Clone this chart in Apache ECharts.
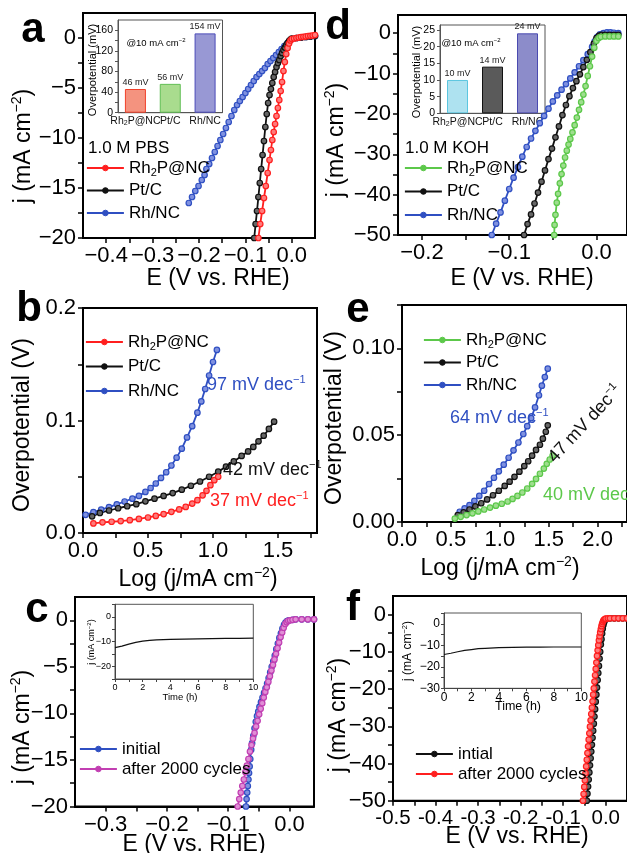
<!DOCTYPE html>
<html>
<head>
<meta charset="utf-8">
<script src="https://cdn.jsdelivr.net/npm/echarts@6.0.0/dist/echarts.min.js"></script>
<style>
  html, body { margin: 0; padding: 0; background: #fff; }
  #chart { width: 627px; height: 853px; }
</style>
</head>
<body>
<div id="chart"></div>
<script>
// ---------------- Data: polarization curves (E in V vs. RHE, j in mA cm^-2) ----------------
// (a) 1.0 M PBS
const pbsRh2P = [[-0.072,-20.0],[-0.068,-18.6],[-0.064,-17.3],[-0.060,-16.0],[-0.056,-14.8],[-0.052,-13.5],[-0.048,-12.2],[-0.045,-11.2],[-0.042,-10.2],[-0.039,-9.4],[-0.036,-8.6],[-0.033,-7.8],[-0.030,-7.0],[-0.027,-6.2],[-0.024,-5.3],[-0.021,-4.4],[-0.018,-3.3],[-0.015,-2.4],[-0.012,-1.6],[-0.009,-1.0],[-0.006,-0.55],[-0.003,-0.25],[0.000,-0.1],[0.005,-0.05],[0.010,0.0],[0.015,0.05],[0.020,0.1],[0.025,0.12],[0.030,0.15],[0.035,0.2],[0.040,0.22],[0.045,0.25],[0.050,0.3]];
const pbsPtC = [[-0.081,-20.0],[-0.078,-18.6],[-0.075,-17.3],[-0.072,-15.9],[-0.069,-14.5],[-0.066,-13.1],[-0.063,-11.7],[-0.060,-10.3],[-0.057,-8.9],[-0.054,-7.6],[-0.051,-6.5],[-0.048,-5.7],[-0.045,-5.1],[-0.042,-4.5],[-0.039,-3.9],[-0.036,-3.4],[-0.033,-2.9],[-0.030,-2.5],[-0.027,-2.2],[-0.024,-1.8],[-0.021,-1.5],[-0.018,-1.2],[-0.015,-0.95],[-0.012,-0.7],[-0.009,-0.5],[-0.006,-0.3],[-0.003,-0.15],[0.000,-0.05],[0.010,0.0],[0.020,0.05],[0.030,0.1],[0.040,0.15],[0.050,0.2]];
const pbsRhNC = [[-0.222,-16.5],[-0.215,-15.9],[-0.208,-15.3],[-0.201,-14.8],[-0.194,-14.2],[-0.188,-13.7],[-0.184,-13.1],[-0.178,-12.6],[-0.172,-12.0],[-0.166,-11.4],[-0.160,-10.8],[-0.154,-10.2],[-0.148,-9.6],[-0.142,-9.0],[-0.136,-8.4],[-0.130,-7.8],[-0.124,-7.2],[-0.118,-6.7],[-0.112,-6.3],[-0.106,-5.9],[-0.100,-5.5],[-0.094,-5.1],[-0.088,-4.7],[-0.082,-4.3],[-0.076,-3.9],[-0.070,-3.6],[-0.064,-3.3],[-0.058,-3.0],[-0.052,-2.6],[-0.046,-2.3],[-0.040,-2.0],[-0.034,-1.7],[-0.028,-1.4],[-0.022,-1.1],[-0.016,-0.8],[-0.010,-0.55],[-0.005,-0.3],[0.000,-0.1],[0.010,0.0],[0.020,0.05],[0.030,0.1],[0.040,0.15],[0.050,0.2]];

// (d) 1.0 M KOH
const kohRh2P = [[-0.0485,-50.0],[-0.0480,-47.5],[-0.0470,-45.0],[-0.0455,-42.0],[-0.0440,-39.8],[-0.0420,-37.2],[-0.0400,-34.9],[-0.0380,-32.8],[-0.0360,-30.8],[-0.0340,-29.1],[-0.0320,-27.6],[-0.0300,-26.2],[-0.0275,-24.6],[-0.0250,-22.8],[-0.0225,-20.9],[-0.0200,-19.0],[-0.0175,-17.1],[-0.0150,-15.2],[-0.0125,-13.1],[-0.0100,-10.6],[-0.0075,-8.2],[-0.0050,-5.8],[-0.0025,-3.6],[0.0000,-1.9],[0.0025,-1.2],[0.0050,-0.9],[0.0100,-0.8],[0.0150,-0.8],[0.0200,-0.8],[0.0250,-0.8]];
const kohPtC = [[-0.0830,-50.0],[-0.0790,-47.3],[-0.0750,-44.9],[-0.0710,-42.2],[-0.0670,-39.5],[-0.0630,-36.8],[-0.0590,-34.0],[-0.0550,-31.2],[-0.0510,-28.6],[-0.0470,-25.8],[-0.0430,-23.1],[-0.0390,-20.3],[-0.0350,-17.8],[-0.0310,-15.6],[-0.0270,-13.6],[-0.0230,-11.9],[-0.0190,-10.2],[-0.0150,-8.4],[-0.0110,-6.6],[-0.0070,-4.7],[-0.0030,-2.6],[0.0000,-1.2],[0.0030,-0.6],[0.0060,-0.4],[0.0100,-0.4],[0.0150,-0.4],[0.0200,-0.4],[0.0250,-0.4]];
const kohRhNC = [[-0.1200,-50.0],[-0.1150,-47.2],[-0.1100,-44.4],[-0.1050,-41.5],[-0.1000,-38.6],[-0.0950,-35.8],[-0.0900,-33.2],[-0.0850,-30.6],[-0.0800,-28.2],[-0.0750,-26.1],[-0.0700,-24.2],[-0.0650,-22.3],[-0.0600,-20.5],[-0.0550,-18.7],[-0.0500,-16.9],[-0.0450,-15.4],[-0.0400,-14.0],[-0.0350,-12.6],[-0.0300,-11.2],[-0.0250,-9.7],[-0.0200,-8.2],[-0.0150,-6.7],[-0.0100,-5.2],[-0.0050,-3.4],[-0.0020,-2.0],[0.0010,-0.9],[0.0040,-0.3],[0.0080,0.0],[0.0120,0.2],[0.0160,0.2],[0.0200,0.1],[0.0250,0.0]];

// (b) Tafel plots, PBS: [log j, overpotential V]
const tafelPbsRh2P = [[0.08,0.0085],[0.15,0.0095],[0.22,0.0100],[0.29,0.0106],[0.36,0.0114],[0.43,0.0125],[0.50,0.0138],[0.56,0.0152],[0.62,0.0168],[0.68,0.0188],[0.74,0.0210],[0.79,0.0232],[0.84,0.0262],[0.88,0.0292],[0.92,0.0335],[0.95,0.0375],[0.98,0.0425],[1.01,0.0470],[1.04,0.0500]];
const tafelPbsPtC = [[0.07,0.0148],[0.13,0.0178],[0.20,0.0200],[0.27,0.0220],[0.34,0.0238],[0.41,0.0256],[0.48,0.0282],[0.55,0.0305],[0.62,0.0330],[0.69,0.0355],[0.76,0.0385],[0.83,0.0420],[0.90,0.0458],[0.97,0.0500],[1.04,0.0545],[1.10,0.0590],[1.16,0.0636],[1.22,0.0685],[1.27,0.0725],[1.31,0.0765],[1.35,0.0815],[1.39,0.0865],[1.43,0.0925],[1.47,0.0990]];
const tafelPbsRhNC = [[0.02,0.0162],[0.08,0.0185],[0.14,0.0207],[0.20,0.0230],[0.26,0.0255],[0.32,0.0280],[0.38,0.0305],[0.43,0.0330],[0.48,0.0365],[0.52,0.0400],[0.56,0.0440],[0.60,0.0490],[0.64,0.0540],[0.68,0.0600],[0.72,0.0670],[0.76,0.0750],[0.80,0.0850],[0.84,0.0950],[0.88,0.1070],[0.91,0.1170],[0.94,0.1280],[0.97,0.1400],[1.00,0.1520],[1.03,0.1627]];

// (e) Tafel plots, KOH
const tafelKohRh2P = [[0.54,0.0020],[0.60,0.0030],[0.66,0.0040],[0.72,0.0050],[0.78,0.0061],[0.84,0.0072],[0.90,0.0083],[0.96,0.0094],[1.02,0.0105],[1.08,0.0118],[1.13,0.0133],[1.18,0.0150],[1.23,0.0170],[1.28,0.0193],[1.33,0.0220],[1.37,0.0248],[1.41,0.0278],[1.45,0.0308],[1.48,0.0335],[1.51,0.0360],[1.54,0.0383]];
const tafelKohPtC = [[0.57,0.0040],[0.63,0.0056],[0.69,0.0072],[0.75,0.0090],[0.81,0.0108],[0.87,0.0130],[0.93,0.0154],[0.99,0.0180],[1.05,0.0208],[1.10,0.0232],[1.15,0.0260],[1.20,0.0290],[1.25,0.0322],[1.29,0.0350],[1.33,0.0382],[1.37,0.0415],[1.41,0.0445],[1.44,0.0480],[1.47,0.0520],[1.49,0.0557]];
const tafelKohRhNC = [[0.59,0.0059],[0.64,0.0078],[0.69,0.0097],[0.74,0.0122],[0.79,0.0150],[0.84,0.0180],[0.89,0.0219],[0.94,0.0255],[0.99,0.0292],[1.04,0.0330],[1.09,0.0370],[1.14,0.0413],[1.19,0.0458],[1.24,0.0507],[1.28,0.0552],[1.32,0.0598],[1.36,0.0660],[1.40,0.0730],[1.43,0.0785],[1.46,0.0835],[1.49,0.0883]];

// (c) PBS durability
const pbsInitial = [[-0.0710,-20.0],[-0.0700,-19.2],[-0.0690,-18.5],[-0.0680,-17.8],[-0.0670,-17.1],[-0.0660,-16.4],[-0.0650,-15.7],[-0.0640,-14.9],[-0.0625,-13.9],[-0.0610,-13.2],[-0.0590,-12.4],[-0.0570,-11.6],[-0.0550,-10.9],[-0.0530,-10.3],[-0.0510,-9.8],[-0.0490,-9.3],[-0.0465,-8.8],[-0.0440,-8.3],[-0.0415,-7.8],[-0.0390,-7.3],[-0.0365,-6.8],[-0.0340,-6.2],[-0.0315,-5.6],[-0.0290,-5.0],[-0.0265,-4.4],[-0.0240,-3.8],[-0.0215,-3.1],[-0.0190,-2.5],[-0.0165,-1.9],[-0.0140,-1.4],[-0.0115,-0.9],[-0.0090,-0.5],[-0.0065,-0.25],[-0.0040,-0.1],[-0.0010,0.0],[0.0050,0.05],[0.0100,0.1],[0.0200,0.1],[0.0300,0.1],[0.0400,0.1]];
const pbsCycled = [[-0.0845,-20.0],[-0.0820,-19.2],[-0.0795,-18.5],[-0.0770,-17.8],[-0.0745,-17.1],[-0.0720,-16.3],[-0.0695,-15.6],[-0.0670,-14.9],[-0.0645,-14.1],[-0.0620,-13.4],[-0.0595,-12.7],[-0.0570,-12.1],[-0.0545,-11.4],[-0.0520,-10.8],[-0.0495,-10.1],[-0.0470,-9.5],[-0.0445,-8.9],[-0.0420,-8.3],[-0.0395,-7.7],[-0.0370,-7.2],[-0.0345,-6.6],[-0.0320,-6.0],[-0.0295,-5.4],[-0.0270,-4.8],[-0.0245,-4.2],[-0.0220,-3.6],[-0.0195,-3.0],[-0.0170,-2.4],[-0.0145,-1.8],[-0.0120,-1.3],[-0.0095,-0.8],[-0.0070,-0.4],[-0.0045,-0.2],[-0.0020,-0.05],[0.0010,0.0],[0.0050,0.05],[0.0100,0.1],[0.0200,0.1],[0.0300,0.1],[0.0400,0.1]];

// (f) KOH durability
const kohInitial = [[-0.0445,-50.0],[-0.0430,-48.1],[-0.0415,-46.2],[-0.0400,-44.3],[-0.0385,-42.4],[-0.0370,-40.5],[-0.0355,-38.6],[-0.0340,-36.8],[-0.0325,-35.0],[-0.0310,-33.1],[-0.0295,-31.2],[-0.0280,-29.3],[-0.0265,-27.4],[-0.0250,-25.4],[-0.0235,-23.4],[-0.0220,-21.5],[-0.0205,-19.6],[-0.0190,-17.6],[-0.0175,-15.7],[-0.0160,-13.8],[-0.0145,-11.8],[-0.0130,-10.0],[-0.0115,-8.0],[-0.0100,-6.6],[-0.0085,-5.1],[-0.0070,-3.8],[-0.0055,-2.8],[-0.0040,-2.1],[-0.0025,-1.6],[0.0000,-1.2],[0.0100,-1.0],[0.0200,-1.0],[0.0300,-1.0],[0.0400,-1.0],[0.0500,-1.0]];
const kohCycled = [[-0.0535,-50.0],[-0.0520,-48.2],[-0.0505,-46.3],[-0.0490,-44.5],[-0.0475,-42.6],[-0.0460,-40.8],[-0.0445,-39.0],[-0.0430,-37.2],[-0.0415,-35.4],[-0.0400,-33.6],[-0.0385,-31.9],[-0.0370,-30.1],[-0.0355,-28.4],[-0.0340,-26.7],[-0.0325,-25.0],[-0.0310,-23.3],[-0.0295,-21.5],[-0.0280,-19.8],[-0.0265,-18.0],[-0.0250,-16.3],[-0.0235,-14.6],[-0.0220,-12.9],[-0.0205,-11.1],[-0.0190,-9.6],[-0.0175,-8.2],[-0.0160,-6.9],[-0.0145,-5.8],[-0.0130,-4.8],[-0.0115,-3.9],[-0.0100,-3.1],[-0.0085,-2.5],[-0.0070,-2.0],[-0.0055,-1.6],[-0.0040,-1.4],[-0.0020,-1.2],[0.0000,-1.1],[0.0050,-1.0],[0.0100,-1.0],[0.0200,-1.0],[0.0300,-1.0],[0.0400,-1.0],[0.0500,-1.0]];

// Chronoamperometry insets: [time h, j]
const chronoPbs = [[0,-12.4],[0.5,-11.8],[1,-11.0],[1.5,-10.3],[2,-9.8],[2.5,-9.5],[3,-9.3],[4,-9.1],[5,-9.0],[6,-8.9],[7,-8.8],[8,-8.7],[9,-8.65],[10,-8.6]];
const chronoKoh = [[0,-14.3],[0.5,-13.7],[1,-13.0],[1.5,-12.4],[2,-12.0],[2.5,-11.6],[3,-11.4],[4,-11.1],[5,-11.0],[6,-10.9],[7,-10.85],[8,-10.8],[9,-10.8],[10,-10.8]];

// Overpotential @10 mA cm^-2 bar insets
const catalysts = ['Rh2P@NC', 'Pt/C', 'Rh/NC'];
const etaPbs = [46, 56, 154];
const etaKoh = [10, 14, 24];

// ---------------- Tick positions and tick labels ----------------
const aTicksX = [-0.4,-0.35,-0.3,-0.25,-0.2,-0.15,-0.1,-0.05,0];
const aLabelsX = [-0.4,-0.3,-0.2,-0.1,0];
const aTicksY = [-20,-17.5,-15,-12.5,-10,-7.5,-5,-2.5,0];
const aLabelsY = [-20,-15,-10,-5,0];
const dTicksX = [-0.2,-0.15,-0.1,-0.05,0];
const dLabelsX = [-0.2,-0.1,0];
const dTicksY = [-50,-45,-40,-35,-30,-25,-20,-15,-10,-5,0];
const dLabelsY = [-50,-40,-30,-20,-10,0];
const bTicksX = [0,0.25,0.5,0.75,1,1.25,1.5,1.75];
const bLabelsX = [0,0.5,1,1.5];
const bTicksY = [0,0.05,0.1,0.15,0.2];
const bLabelsY = [0,0.1,0.2];
const eTicksX = [0,0.25,0.5,0.75,1,1.25,1.5,1.75,2,2.25];
const eLabelsX = [0,0.5,1,1.5,2];
const eTicksY = [0,0.025,0.05,0.075,0.1,0.125];
const eLabelsY = [0,0.05,0.1];
const cTicksX = [-0.3,-0.25,-0.2,-0.15,-0.1,-0.05,0];
const cLabelsX = [-0.3,-0.2,-0.1,0];
const cTicksY = [-20,-17.5,-15,-12.5,-10,-7.5,-5,-2.5,0];
const cLabelsY = [-20,-15,-10,-5,0];
const fTicksX = [-0.5,-0.45,-0.4,-0.35,-0.3,-0.25,-0.2,-0.15,-0.1,-0.05,0];
const fLabelsX = [-0.5,-0.4,-0.3,-0.2,-0.1,0];
const fTicksY = [-50,-45,-40,-35,-30,-25,-20,-15,-10,-5,0];
const fLabelsY = [-50,-40,-30,-20,-10,0];
const barPbsTicks = [0,20,40,60,80,100,120,140,160];
const barPbsLabels = [0,40,80,120,160];
const barKohTicks = [0,5,10,15,20,25];
const barKohLabels = [0,5,10,15,20,25];
const timeTicks = [0,1,2,3,4,5,6,7,8,9,10];
const timeLabels = [0,2,4,6,8,10];
const chronoPbsLabels = [-20,-10,0];
const chronoPbsTicks = [-25,-20,-15,-10,-5,0,5];
const chronoKohLabels = [-30,-20,-10,0];
const chronoKohTicks = [-30,-25,-20,-15,-10,-5,0,5];

// ---------------- Styling helpers ----------------
const FONT = '"Liberation Sans", Arial, Helvetica, sans-serif';
const RED = '#ff1f1f', BLACK = '#111111', BLUE = '#2f4fc2', GREEN = '#5cc84a', MAGENTA = '#c23fb2';
const FILL = { [RED]: '#ff7a7a', [BLACK]: '#666666', [BLUE]: '#7f91e0', [GREEN]: '#9ede8e', [MAGENTA]: '#e08ed6' };

function numFmt(dec, minus) {
  return function (v) {
    const s = Math.abs(v).toFixed(dec);
    return (v < -1e-9 ? minus : '') + s;
  };
}

function valueAxis(gridIndex, min, max, ticks, labels, dec, o) {
  o = o || {};
  return {
    type: 'value', gridIndex, min, max,
    splitLine: { show: false },
    axisLine: { show: true, onZero: false, lineStyle: { color: o.lineColor || '#000', width: o.lineWidth || 2 } },
    axisTick: { show: true, inside: false, length: o.tickLen || 5, customValues: ticks,
                lineStyle: { color: o.lineColor || '#000', width: o.tickWidth || 1.5 } },
    axisLabel: { customValues: labels, formatter: numFmt(dec, o.minus || '\u2212'), color: '#000',
                 showMinLabel: true, showMaxLabel: true, hideOverlap: false,
                 fontSize: o.fontSize || 22, fontFamily: FONT, margin: o.margin || 7 }
  };
}

function curve(name, data, idx, color) {
  return {
    type: 'line', name, data, xAxisIndex: idx, yAxisIndex: idx,
    symbol: 'circle', symbolSize: 5.5, showSymbol: true, showAllSymbol: true,
    lineStyle: { color, width: 1.8 },
    itemStyle: { color: FILL[color], borderColor: color, borderWidth: 1.2 },
    animation: false, silent: true, z: 3
  };
}

const nameRich = {
  s: { fontSize: 11, verticalAlign: 'bottom', lineHeight: 14, fontFamily: FONT }
};
function richName(name) {
  return name === 'Rh2P@NC' ? 'Rh{s|2}P@NC' : name;
}

function legendBlock(names, colors, left, top, gap) {
  return {
    show: true, orient: 'vertical', left, top, padding: 0,
    itemWidth: 37, itemHeight: 7, itemGap: gap, selectedMode: false,
    data: names.map((n, i) => ({
      name: n,
      itemStyle: { color: colors[i], borderColor: colors[i], borderWidth: 1 },
      lineStyle: { color: colors[i], width: 1.8 }
    })),
    formatter: richName,
    textStyle: { fontSize: 17, fontFamily: FONT, color: '#000', lineHeight: 20, rich: nameRich }
  };
}

function label(x, y, text, size, extra) {
  extra = extra || {};
  return {
    type: 'text', x, y, rotation: extra.rotation || 0, silent: true, z: 50,
    style: {
      text, fill: extra.color || '#000', fontSize: size, fontFamily: FONT,
      fontWeight: extra.bold ? 'bold' : 'normal',
      align: extra.align || 'center', verticalAlign: 'middle',
      textAlign: extra.align || 'center', textVerticalAlign: 'middle',
      rich: extra.rich || undefined
    }
  };
}

function supRich(size, color) {
  return {
    sup: { fontSize: Math.round(size * 0.6), verticalAlign: 'top', lineHeight: size + 4, fill: color || '#000', color: color || '#000', fontFamily: FONT }
  };
}

// ---------------- Layout of the panels ----------------
const grids = [
  { left: 83, top: 13, width: 232, height: 225 },     // 0: a
  { left: 398, top: 15, width: 243, height: 220 },    // 1: d
  { left: 83, top: 308, width: 234, height: 225 },    // 2: b
  { left: 402, top: 305, width: 246, height: 217 },   // 3: e
  { left: 75, top: 597, width: 239, height: 209.5 },  // 4: c
  { left: 393, top: 596, width: 238, height: 204.7 }, // 5: f
  { left: 118, top: 20, width: 104.5, height: 92.7 }, // 6: bar inset (a)
  { left: 440, top: 25, width: 105, height: 88.3 },   // 7: bar inset (d)
  { left: 115, top: 604.3, width: 138.3, height: 74.7 }, // 8: time inset (c)
  { left: 444, top: 613, width: 137.3, height: 75.3 }    // 9: time inset (f)
].map((g, i) => Object.assign({
  show: true, containLabel: false,
  borderColor: i < 6 ? '#000' : '#555', borderWidth: i < 6 ? 2 : 1,
  backgroundColor: i < 6 ? 'transparent' : '#fff'
}, g));

const catLabel = { interval: 0, hideOverlap: false, fontSize: 10.5, fontFamily: FONT, color: '#111', margin: 3,
                   formatter: richName, rich: { s: { fontSize: 7, verticalAlign: 'bottom', lineHeight: 10 } } };

const xAxes = [
  valueAxis(0, -0.45, 0.05, aTicksX, aLabelsX, 1),
  valueAxis(1, -0.2275, 0.035, dTicksX, dLabelsX, 1),
  valueAxis(2, 0, 1.8, bTicksX, bLabelsX, 1),
  valueAxis(3, 0, 2.3, eTicksX, eLabelsX, 1),
  valueAxis(4, -0.35, 0.04, cTicksX, cLabelsX, 1),
  valueAxis(5, -0.5, 0.05, fTicksX, fLabelsX, 1, { fontSize: 20.5, minus: '-' }),
  { type: 'category', gridIndex: 6, data: catalysts,
    axisLine: { show: true, lineStyle: { color: '#555', width: 1 } }, axisTick: { show: false }, axisLabel: catLabel },
  { type: 'category', gridIndex: 7, data: catalysts,
    axisLine: { show: true, lineStyle: { color: '#555', width: 1 } }, axisTick: { show: false }, axisLabel: catLabel },
  valueAxis(8, 0, 10, timeTicks, timeLabels, 0, { fontSize: 9, margin: 4, tickLen: 3, lineWidth: 1, tickWidth: 1, lineColor: '#444' }),
  valueAxis(9, 0, 10, timeTicks, timeLabels, 0, { fontSize: 12, margin: 3, tickLen: 3, lineWidth: 1, tickWidth: 1, lineColor: '#444' })
];

const yAxes = [
  valueAxis(0, -20, 2.5, aTicksY, aLabelsY, 0),
  valueAxis(1, -50, 4.5, dTicksY, dLabelsY, 0),
  valueAxis(2, 0, 0.2, bTicksY, bLabelsY, 1),
  valueAxis(3, 0, 0.125, eTicksY, eLabelsY, 2),
  valueAxis(4, -20, 2.5, cTicksY, cLabelsY, 0),
  valueAxis(5, -50, 5, fTicksY, fLabelsY, 0),
  valueAxis(6, 0, 180, barPbsTicks, barPbsLabels, 0, { fontSize: 10.5, margin: 5, tickLen: 3, lineWidth: 1, tickWidth: 1, lineColor: '#555' }),
  valueAxis(7, 0, 26.5, barKohTicks, barKohLabels, 0, { fontSize: 10.5, margin: 5, tickLen: 3, lineWidth: 1, tickWidth: 1, lineColor: '#555' }),
  valueAxis(8, -25, 5, chronoPbsTicks, chronoPbsLabels, 0, { fontSize: 9, margin: 4, tickLen: 3, lineWidth: 1, tickWidth: 1, lineColor: '#444' }),
  valueAxis(9, -30, 5, chronoKohTicks, chronoKohLabels, 0, { fontSize: 12, margin: 4, tickLen: 3, lineWidth: 1, tickWidth: 1, lineColor: '#444' })
];

// Bar colours for the overpotential insets
const barPbsFill = ['#f4937f', '#a9dc8e', '#9898d4'];
const barPbsEdge = ['#f0402a', '#62bf55', '#4a4ab8'];
const barKohFill = ['#aee2f0', '#5a5a5a', '#8c8cca'];
const barKohEdge = ['#5cc6e0', '#111111', '#4a4ab0'];

function barSeries(idx, values, fills, edges) {
  return {
    type: 'bar', xAxisIndex: idx, yAxisIndex: idx, barWidth: 21, silent: true, animation: false, z: 5,
    data: values.map((v, i) => ({ value: v, itemStyle: { color: fills[i], borderColor: edges[i], borderWidth: 1 } })),
    label: { show: true, position: 'top', distance: 2, formatter: '{c} mV', fontSize: 9, fontFamily: FONT, color: '#222' }
  };
}

function timeSeries(idx, data) {
  return { type: 'line', xAxisIndex: idx, yAxisIndex: idx, data, showSymbol: false, symbol: 'none',
           lineStyle: { color: '#111', width: 1.2 }, silent: true, animation: false, z: 5 };
}

const series = [
  curve('Rh/NC', pbsRhNC, 0, BLUE), curve('Pt/C', pbsPtC, 0, BLACK), curve('Rh2P@NC', pbsRh2P, 0, RED),
  curve('Rh/NC', kohRhNC, 1, BLUE), curve('Pt/C', kohPtC, 1, BLACK), curve('Rh2P@NC', kohRh2P, 1, GREEN),
  curve('Rh/NC', tafelPbsRhNC, 2, BLUE), curve('Pt/C', tafelPbsPtC, 2, BLACK), curve('Rh2P@NC', tafelPbsRh2P, 2, RED),
  curve('Rh/NC', tafelKohRhNC, 3, BLUE), curve('Pt/C', tafelKohPtC, 3, BLACK), curve('Rh2P@NC', tafelKohRh2P, 3, GREEN),
  curve('initial', pbsInitial, 4, BLUE), curve('after 2000 cycles', pbsCycled, 4, MAGENTA),
  curve('intial', kohInitial, 5, BLACK), curve('after 2000 cycles', kohCycled, 5, RED),
  barSeries(6, etaPbs, barPbsFill, barPbsEdge),
  barSeries(7, etaKoh, barKohFill, barKohEdge),
  timeSeries(8, chronoPbs), timeSeries(9, chronoKoh)
];

const legends = [
  legendBlock(['Rh2P@NC', 'Pt/C', 'Rh/NC'], [RED, BLACK, BLUE], 86, 158, 2.5),
  legendBlock(['Rh2P@NC', 'Pt/C', 'Rh/NC'], [GREEN, BLACK, BLUE], 404, 158, 3.5),
  legendBlock(['Rh2P@NC', 'Pt/C', 'Rh/NC'], [RED, BLACK, BLUE], 85, 332, 4.5),
  legendBlock(['Rh2P@NC', 'Pt/C', 'Rh/NC'], [GREEN, BLACK, BLUE], 423, 330, 2.5),
  legendBlock(['initial', 'after 2000 cycles'], [BLUE, MAGENTA], 79, 739, 0),
  legendBlock(['intial', 'after 2000 cycles'], [BLACK, RED], 415, 744, 0)
];

// ---------------- Titles, panel letters and annotations ----------------
const R90 = Math.PI / 2;
const jTitle = '{n|j (mA cm}{sup|\u22122}{n|)}';
const logTitle = '{n|Log (j/mA cm}{sup|\u22122}{n|)}';
function titleRich(size) {
  return Object.assign({ n: { fontSize: size, lineHeight: size + 4, fontFamily: FONT } }, supRich(size));
}
function slopeText(x, y, value, color, extra) {
  extra = extra || {};
  return label(x, y, '{n|' + value + ' mV dec}{sup|\u22121}', 18, {
    align: extra.align || 'left', rotation: extra.rotation || 0, color,
    rich: { n: { fontSize: 18, lineHeight: 22, fill: color, color: color, fontFamily: FONT },
            sup: { fontSize: 11, verticalAlign: 'top', lineHeight: 22, fill: color, color: color, fontFamily: FONT } }
  });
}

const graphics = [
  // panel letters
  label(33, 30, 'a', 42, { bold: true }),
  label(338, 27, 'd', 42, { bold: true }),
  label(29, 309, 'b', 42, { bold: true }),
  label(358, 310, 'e', 42, { bold: true }),
  label(37, 610, 'c', 42, { bold: true }),
  label(353, 608, 'f', 42, { bold: true }),
  // axis titles
  label(218, 279, 'E (V vs. RHE)', 23),
  label(522, 279, 'E (V vs. RHE)', 23),
  label(198, 580, logTitle, 23, { rich: titleRich(23) }),
  label(500, 569, logTitle, 23, { rich: titleRich(23) }),
  label(194, 845, 'E (V vs. RHE)', 23),
  label(517, 837, 'E (V vs. RHE)', 23),
  label(24, 146, jTitle, 23, { rotation: R90, rich: titleRich(23) }),
  label(337, 140, jTitle, 23, { rotation: R90, rich: titleRich(23) }),
  label(23, 425, 'Overpotential (V)', 23, { rotation: R90 }),
  label(335, 418, 'Overpotential (V)', 23, { rotation: R90 }),
  label(23, 727, jTitle, 23, { rotation: R90, rich: titleRich(23) }),
  label(339, 715, jTitle, 23, { rotation: R90, rich: titleRich(23) }),
  // electrolyte labels
  label(88, 148, '1.0 M PBS', 17, { align: 'left' }),
  label(405, 148, '1.0 M KOH', 17, { align: 'left' }),
  // Tafel slopes
  slopeText(207, 385, 97, BLUE),
  slopeText(223, 470, 42, BLACK),
  slopeText(210, 501, 37, RED),
  slopeText(450, 418, 64, BLUE),
  slopeText(585, 424, 47, BLACK, { align: 'center', rotation: 47 * Math.PI / 180 }),
  slopeText(543, 495, 40, GREEN),
  // bar inset texts
  label(93, 70, 'Overpotential (mV)', 11, { rotation: R90 }),
  label(417, 72, 'Overpotential (mV)', 11, { rotation: R90 }),
  label(156, 43, '{n|@10 mA cm}{sup|\u22122}', 9.5, { rich: { n: { fontSize: 9.5, lineHeight: 12, fontFamily: FONT }, sup: { fontSize: 6, verticalAlign: 'top', lineHeight: 12, fontFamily: FONT } } }),
  label(471, 43, '{n|@10 mA cm}{sup|\u22122}', 9.5, { rich: { n: { fontSize: 9.5, lineHeight: 12, fontFamily: FONT }, sup: { fontSize: 6, verticalAlign: 'top', lineHeight: 12, fontFamily: FONT } } }),
  // time inset texts
  label(92, 642, '{n|j (mA cm}{sup|\u22122}{n|)}', 9, { rotation: R90, rich: { n: { fontSize: 9, lineHeight: 11, fontFamily: FONT }, sup: { fontSize: 6, verticalAlign: 'top', lineHeight: 11, fontFamily: FONT } } }),
  label(180, 697, 'Time (h)', 9.5),
  label(408, 651, '{n|j (mA cm}{sup|\u22122}{n|)}', 12, { rotation: R90, rich: { n: { fontSize: 12, lineHeight: 14, fontFamily: FONT }, sup: { fontSize: 7.5, verticalAlign: 'top', lineHeight: 14, fontFamily: FONT } } }),
  label(518, 707, 'Time (h)', 12.5)
];

const chart = echarts.init(document.getElementById('chart'), null, { renderer: 'canvas' });
chart.setOption({
  backgroundColor: '#fff',
  animation: false,
  textStyle: { fontFamily: FONT },
  grid: grids,
  xAxis: xAxes,
  yAxis: yAxes,
  legend: legends,
  series,
  graphic: graphics
});
</script>
</body>
</html>
